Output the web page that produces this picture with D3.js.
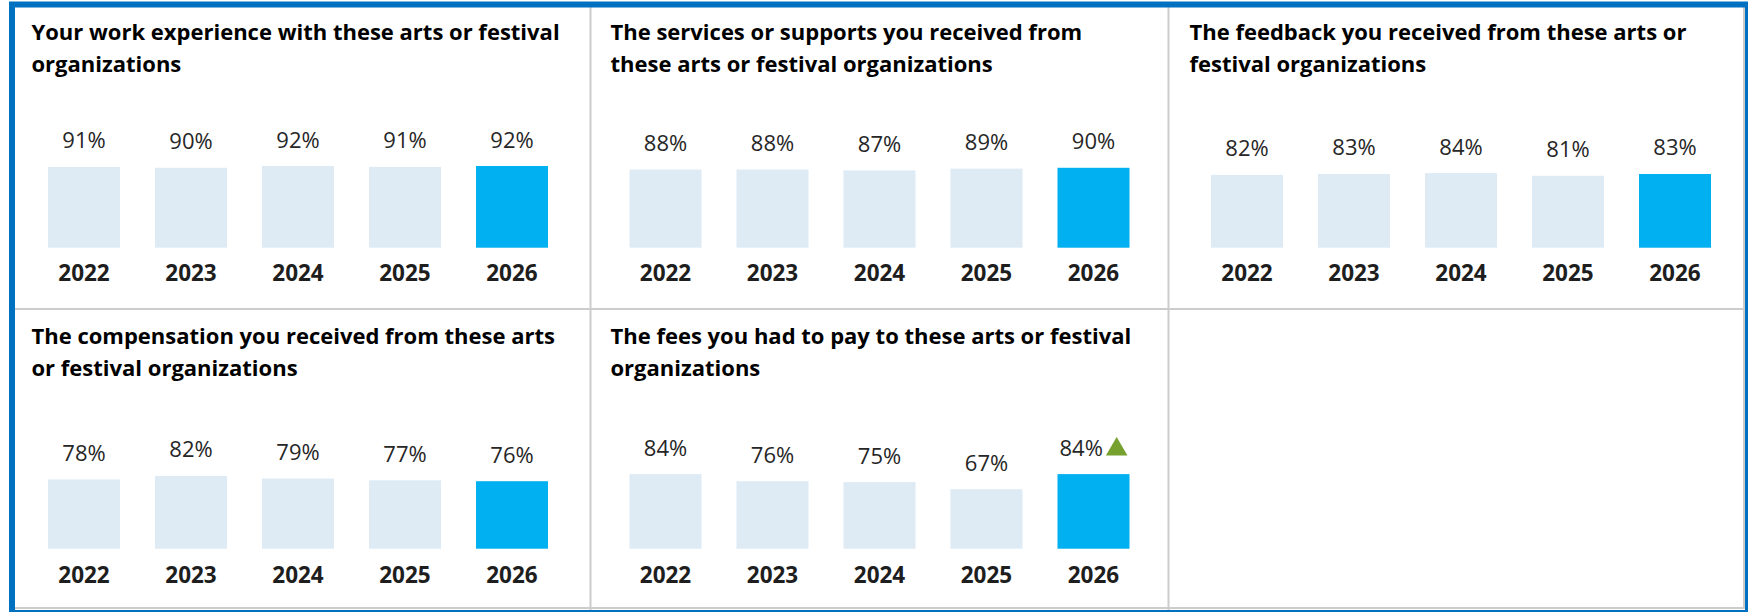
<!DOCTYPE html>
<html>
<head>
<meta charset="utf-8">
<script src="https://cdn.jsdelivr.net/npm/d3@7"></script>
<style>
  html, body { margin: 0; padding: 0; background: #ffffff; }
  svg { display: block; }
  text { font-family: "Open Sans", Lato, sans-serif; }
</style>
</head>
<body>
<svg id="chart" width="1748" height="612"></svg>
<script>
// ---- data ----
const years = ["2022", "2023", "2024", "2025", "2026"];

const titles = [
  ["Your work experience with these arts or festival", "organizations"],
  ["The services or supports you received from", "these arts or festival organizations"],
  ["The feedback you received from these arts or", "festival organizations"],
  ["The compensation you received from these arts", "or festival organizations"],
  ["The fees you had to pay to these arts or festival", "organizations"]
];

const workExperience   = [91, 90, 92, 91, 92];
const servicesSupports = [88, 88, 87, 89, 90];
const feedback         = [82, 83, 84, 81, 83];
const compensation     = [78, 82, 79, 77, 76];
const fees             = [84, 76, 75, 67, 84];

const panelValues = [workExperience, servicesSupports, feedback, compensation, fees];

// 1 = significant increase versus the previous year
const sigUp = [
  [0, 0, 0, 0, 0],
  [0, 0, 0, 0, 0],
  [0, 0, 0, 0, 0],
  [0, 0, 0, 0, 0],
  [0, 0, 0, 0, 1]
];

// ---- styles ----
const COLOR_PAST = "#deebf5";
const COLOR_CURRENT = "#00b0f0";
const COLOR_FRAME = "#0070c0";
const COLOR_GRID = "#cccccc";
const COLOR_UP = "#76a12f";

const TITLE_SIZE = 22;
const VALUE_SIZE = 22;
const YEAR_SIZE = 22.5;

// ---- layout ----
const svg = d3.select("#chart");

const colTitleX = [31.5, 610.5, 1189.5];
const colBarStart = [48, 629.5, 1211];
const rowTitleY = [39.5, 343.5];
const rowBarBase = [247.7, 548.7];
const rowYearY = [281, 583.3];
const dividerX = [590.5, 1168.5];
const dividerY = 309;

const barHeight = d3.scaleLinear().domain([0, 100]).range([0, 88.8]);

// grid lines between panels
const grid = svg.append("g").attr("stroke", COLOR_GRID).attr("stroke-width", 2).attr("fill", "none");
grid.append("rect").attr("x", 14).attr("y", 6).attr("width", 1730).attr("height", 602);
dividerX.forEach(x => grid.append("line").attr("x1", x).attr("x2", x).attr("y1", 4).attr("y2", 610));
grid.append("line").attr("x1", 12).attr("x2", 1746).attr("y1", dividerY).attr("y2", dividerY);

panelValues.forEach((vals, p) => {
  const col = p % 3, row = Math.floor(p / 3);
  const g = svg.append("g");
  const base = rowBarBase[row];

  const x = d3.scaleBand()
    .domain(years)
    .range([colBarStart[col], colBarStart[col] + 500])
    .paddingInner(0.327)
    .paddingOuter(0);

  // title
  const t = g.append("text")
    .attr("x", colTitleX[col])
    .attr("y", rowTitleY[row])
    .attr("font-size", TITLE_SIZE)
    .attr("font-weight", 700)
    .attr("fill", "#000000");
  titles[p].forEach((line, i) => {
    t.append("tspan").attr("x", colTitleX[col]).attr("dy", i === 0 ? 0 : 32).text(line);
  });

  // bars
  g.selectAll("rect.bar")
    .data(years.map((yr, i) => ({ yr, v: vals[i], i })))
    .join("rect")
    .attr("class", "bar")
    .attr("x", d => x(d.yr))
    .attr("width", x.bandwidth())
    .attr("y", d => base - barHeight(d.v))
    .attr("height", d => barHeight(d.v))
    .attr("fill", d => d.i === years.length - 1 ? COLOR_CURRENT : COLOR_PAST);

  // value labels (with optional significance triangle)
  years.forEach((yr, i) => {
    const cx = x(yr) + x.bandwidth() / 2;
    const ty = base - barHeight(vals[i]) - 18.5;
    const lbl = g.append("text")
      .attr("y", ty)
      .attr("font-size", VALUE_SIZE)
      .attr("fill", "#262626")
      .text(vals[i] + "%");
    if (sigUp[p][i]) {
      const tw = lbl.node().getComputedTextLength();
      const triW = 21.6, triH = 18.6, gap = 3;
      const x0 = cx - (tw + gap + triW) / 2;
      lbl.attr("x", x0).attr("text-anchor", "start");
      const tx = x0 + tw + gap;
      g.append("path")
        .attr("d", `M${tx},${ty} L${tx + triW},${ty} L${tx + triW / 2},${ty - triH} Z`)
        .attr("fill", COLOR_UP);
    } else {
      lbl.attr("x", cx).attr("text-anchor", "middle");
    }
  });

  // year labels
  g.selectAll("text.year")
    .data(years)
    .join("text")
    .attr("class", "year")
    .attr("x", d => x(d) + x.bandwidth() / 2)
    .attr("y", rowYearY[row])
    .attr("text-anchor", "middle")
    .attr("font-size", YEAR_SIZE)
    .attr("font-weight", 700)
    .attr("fill", "#1e1e1e")
    .text(d => d);
});

// outer frame
svg.append("rect")
  .attr("x", 12).attr("y", 4.5)
  .attr("width", 1736).attr("height", 608.5)
  .attr("fill", "none")
  .attr("stroke", COLOR_FRAME)
  .attr("stroke-width", 6);
</script>
</body>
</html>
